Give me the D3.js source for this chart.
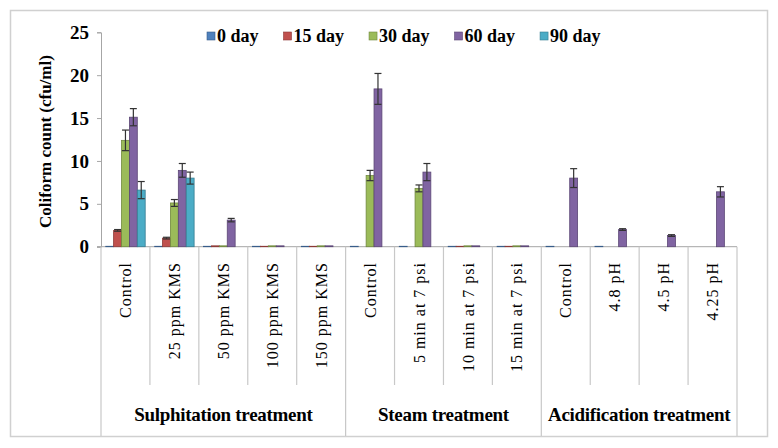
<!DOCTYPE html>
<html>
<head>
<meta charset="utf-8">
<script src="https://cdn.jsdelivr.net/npm/d3@7"></script>
<style>
  body { margin: 0; background: #fff; }
  text { font-family: "Liberation Serif", "Times New Roman", serif; fill: #000; }
</style>
</head>
<body>
<div id="chart-area"></div>
<script>

var width = 778,
    height = 448;

// data
var categories = ["Control", "25 ppm KMS", "50 ppm KMS", "100 ppm KMS", "150 ppm KMS",
                  "Control", "5 min at 7 psi", "10 min at 7 psi", "15 min at 7 psi",
                  "Control", "4.8 pH", "4.5 pH", "4.25 pH"];
var groups = ["Sulphitation treatment", "Steam treatment", "Acidification treatment"];
var groupSizes = [5, 4, 4];
var series = ["0 day", "15 day", "30 day", "60 day", "90 day"];

var day0  = [0.05, 0.05, 0.05, 0.05, 0.05, 0.05, 0.05, 0.05, 0.05, 0.05, 0.05, 0, 0];
var day15 = [1.9, 1.0, 0.1, 0.05, 0.05, 0, 0, 0.05, 0.05, 0, 0, 0, 0];
var day30 = [12.4, 5.1, 0.1, 0.1, 0.1, 8.3, 6.8, 0.1, 0.1, 0, 0, 0, 0];
var day60 = [15.1, 8.9, 3.1, 0.1, 0.1, 18.4, 8.7, 0.1, 0.1, 8.0, 2.0, 1.3, 6.4];
var day90 = [6.6, 8.0, 0, 0, 0, 0, 0, 0, 0, 0, 0, 0, 0];

var err0  = [0, 0, 0, 0, 0, 0, 0, 0, 0, 0, 0, 0, 0];
var err15 = [0.1, 0.1, 0, 0, 0, 0, 0, 0, 0, 0, 0, 0, 0];
var err30 = [1.2, 0.4, 0, 0, 0, 0.6, 0.4, 0, 0, 0, 0, 0, 0];
var err60 = [1.0, 0.8, 0.2, 0, 0, 1.8, 1.0, 0, 0, 1.1, 0.1, 0.1, 0.6];
var err90 = [1.0, 0.7, 0, 0, 0, 0, 0, 0, 0, 0, 0, 0, 0];

var yTicks = [0, 5, 10, 15, 20, 25];

var values = [day0, day15, day30, day60, day90];
var errors = [err0, err15, err30, err60, err90];
var fills   = ["#4f81bd", "#c0504d", "#9bbb59", "#8064a2", "#4bacc6"];
var strokes = ["#385d8a", "#8c3836", "#71893f", "#5c4776", "#357d91"];

var svg = d3.select("#chart-area").append("svg")
    .attr("width", width)
    .attr("height", height);

// outer frame
svg.append("rect")
    .attr("x", 10.5).attr("y", 10.5)
    .attr("width", 757).attr("height", 426)
    .attr("fill", "none")
    .attr("stroke", "#d0d0d0")
    .attr("stroke-width", 1.5);

var plotLeft = 101, plotRight = 737, plotTop = 32.3, plotBase = 246.7;

var x = d3.scaleBand()
    .domain(d3.range(categories.length))
    .range([plotLeft, plotRight])
    .padding(0);

var x1 = d3.scaleBand()
    .domain(d3.range(series.length))
    .range([0, x.bandwidth()])
    .paddingInner(0)
    .paddingOuter(0.6);

var y = d3.scaleLinear()
    .domain([0, 25])
    .range([plotBase, plotTop]);

// y axis
var yAxis = svg.append("g")
    .attr("transform", "translate(" + plotLeft + ",0)")
    .call(d3.axisLeft(y).tickValues(yTicks).tickSize(4).tickPadding(8));
yAxis.select(".domain").attr("stroke", "#a6a6a6");
yAxis.selectAll(".tick line").attr("stroke", "#a6a6a6");
yAxis.selectAll(".tick text")
    .style("font-family", "Liberation Serif")
    .style("font-weight", "bold")
    .style("font-size", "19px");

svg.append("text")
    .attr("transform", "translate(45," + ((plotTop + plotBase) / 2 + 2) + ") rotate(-90)")
    .attr("text-anchor", "middle")
    .attr("dy", "0.35em")
    .style("font-weight", "bold")
    .style("font-size", "17px")
    .text("Coliform count (cfu/ml)");

// category axis line and separators
svg.append("line")
    .attr("x1", plotLeft - 4).attr("x2", plotRight)
    .attr("y1", plotBase).attr("y2", plotBase)
    .attr("stroke", "#a6a6a6");

var groupStarts = [0];
groupSizes.forEach(function(s, i) { groupStarts.push(groupStarts[i] + s); });

d3.range(categories.length + 1).forEach(function(i) {
  var xp = i < categories.length ? x(i) : plotRight;
  var isGroup = groupStarts.indexOf(i) >= 0;
  svg.append("line")
      .attr("x1", xp).attr("x2", xp)
      .attr("y1", plotBase).attr("y2", isGroup ? 436 : 385)
      .attr("stroke", "#c8c8c8")
      .attr("stroke-width", 1.2);
});

svg.selectAll(".cat")
    .data(categories)
    .enter()
    .append("text")
    .attr("class", "cat")
    .attr("transform", function(d, i) {
      return "translate(" + (x(i) + x.bandwidth() / 2) + ",262) rotate(-90)";
    })
    .attr("text-anchor", "end")
    .attr("dy", "0.35em")
    .style("font-size", "16px")
    .style("letter-spacing", "1px")
    .text(function(d) { return d; });

svg.selectAll(".grp")
    .data(groups)
    .enter()
    .append("text")
    .attr("class", "grp")
    .attr("x", function(d, i) {
      var a = x(groupStarts[i]);
      var b = groupStarts[i + 1] < categories.length ? x(groupStarts[i + 1]) : plotRight;
      return (a + b) / 2;
    })
    .attr("y", 421)
    .attr("text-anchor", "middle")
    .style("font-weight", "bold")
    .style("font-size", "19px")
    .style("letter-spacing", "-0.3px")
    .text(function(d) { return d; });

// bars
series.forEach(function(s, k) {
  var g = svg.append("g");
  g.selectAll("rect")
      .data(values[k])
      .enter()
      .append("rect")
      .attr("x", function(d, i) { return x(i) + x1(k); })
      .attr("y", function(d) { return y(d); })
      .attr("width", x1.bandwidth())
      .attr("height", function(d) { return plotBase - y(d); })
      .attr("fill", fills[k])
      .attr("stroke", function(d) { return d > 0 ? strokes[k] : "none"; })
      .attr("stroke-width", 0.8);
});

// error bars
series.forEach(function(s, k) {
  var pts = values[k].map(function(v, i) { return { v: v, e: errors[k][i], i: i }; })
      .filter(function(d) { return d.e > 0; });
  var g = svg.append("g").attr("stroke", "#333").attr("stroke-width", 1.2);
  pts.forEach(function(d) {
    var cx = x(d.i) + x1(k) + x1.bandwidth() / 2;
    g.append("line")
        .attr("x1", cx).attr("x2", cx)
        .attr("y1", y(d.v - d.e)).attr("y2", y(d.v + d.e));
    [d.v - d.e, d.v + d.e].forEach(function(t) {
      g.append("line")
          .attr("x1", cx - 3.5).attr("x2", cx + 3.5)
          .attr("y1", y(t)).attr("y2", y(t));
    });
  });
});

// legend
var legend = svg.append("g").attr("transform", "translate(207,36)");
var lx = 0;
series.forEach(function(s, k) {
  legend.append("rect")
      .attr("x", lx).attr("y", -4)
      .attr("width", 8).attr("height", 8)
      .attr("fill", fills[k])
      .attr("stroke", strokes[k])
      .attr("stroke-width", 0.6);
  var t = legend.append("text")
      .attr("x", lx + 10)
      .attr("y", 0)
      .attr("dy", "0.35em")
      .style("font-weight", "bold")
      .style("font-size", "18px")
      .text(s);
  lx += 10 + t.node().getComputedTextLength() + 25;
});

</script>
</body>
</html>
